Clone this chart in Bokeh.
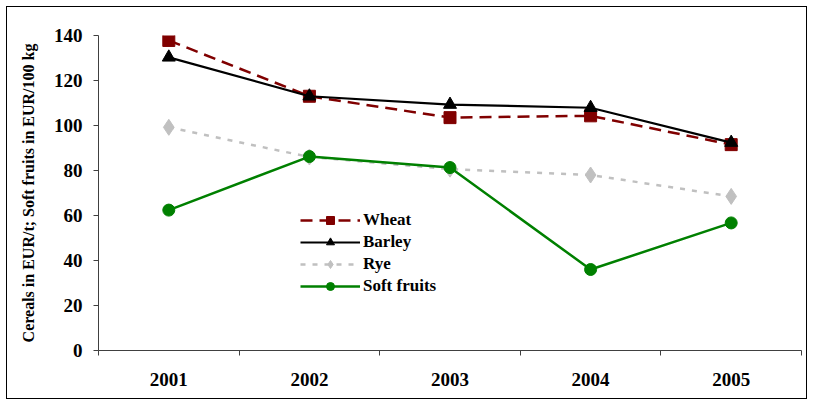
from bokeh.plotting import figure
from bokeh.models import FixedTicker, Legend, LegendItem, Range1d
from bokeh.embed import file_html
from bokeh.resources import INLINE

years = ["2001", "2002", "2003", "2004", "2005"]
wheat = [137.8, 113.0, 103.5, 104.3, 91.5]
barley = [130.3, 113.0, 109.3, 107.9, 92.4]
rye = [99.2, 86.0, 80.6, 78.0, 68.5]
soft_fruits = [62.4, 86.2, 81.3, 36.0, 56.7]
y_ticks = [0, 20, 40, 60, 80, 100, 120, 140]

xs = list(range(1, len(years) + 1))

p = figure(width=801, height=393, output_backend="svg", toolbar_location=None,
           x_range=Range1d(0.5, len(years) + 0.5), y_range=Range1d(0, 140),
           min_border_left=91, min_border_right=7, min_border_top=28, min_border_bottom=50)
p.styles = {"border": "1px solid black", "margin-left": "6px", "margin-top": "6px"}
p.outline_line_color = None
p.xgrid.visible = False
p.ygrid.visible = False
p.background_fill_color = "white"
p.border_fill_color = "white"

FONT = "Liberation Serif"
axis_color = "#404040"

p.xaxis.ticker = FixedTicker(ticks=xs, minor_ticks=[x - 0.5 for x in xs] + [xs[-1] + 0.5])
p.xaxis.major_label_overrides = {x: y for x, y in zip(xs, years)}
p.xaxis.major_tick_out = 0
p.xaxis.major_tick_in = 0
p.xaxis.minor_tick_out = 5
p.xaxis.minor_tick_in = 0
p.xaxis.major_label_standoff = 17

p.yaxis.ticker = FixedTicker(ticks=y_ticks)
p.yaxis.major_tick_out = 5
p.yaxis.major_tick_in = 0
p.yaxis.major_label_standoff = 11
p.yaxis.axis_label = "Cereals in EUR/t; Soft fruits in EUR/100 kg"
p.yaxis.axis_label_text_font = FONT
p.yaxis.axis_label_text_font_style = "bold"
p.yaxis.axis_label_text_font_size = "16px"
p.yaxis.axis_label_text_color = "black"
p.yaxis.axis_label_standoff = 14

for ax in (p.xaxis, p.yaxis):
    ax.axis_line_color = axis_color
    ax.major_tick_line_color = axis_color
    ax.minor_tick_line_color = axis_color
    ax.major_label_text_font = FONT
    ax.major_label_text_font_style = "bold"
    ax.major_label_text_font_size = "19px"
    ax.major_label_text_color = "black"
p.yaxis.minor_tick_line_color = None

r_rye_l = p.line(xs, rye, line_color="#C0C0C0", line_width=2.5, line_dash="5 7")
r_rye_m = p.scatter(xs, rye, marker="diamond", size=16, fill_color="#C0C0C0", line_color="#C0C0C0")
r_wheat_l = p.line(xs, wheat, line_color="#800000", line_width=2.5, line_dash="12 7")
r_wheat_m = p.scatter(xs, wheat, marker="square", size=12, fill_color="#800000", line_color="#800000")
r_barley_l = p.line(xs, barley, line_color="black", line_width=2.2)
r_barley_m = p.scatter(xs, barley, marker="triangle", size=13, fill_color="black", line_color="black")
r_soft_l = p.line(xs, soft_fruits, line_color="#008000", line_width=2.5)
r_soft_m = p.scatter(xs, soft_fruits, marker="circle", size=12, fill_color="#008000", line_color="#008000")

legend = Legend(items=[
    LegendItem(label="Wheat", renderers=[r_wheat_l, r_wheat_m]),
    LegendItem(label="Barley", renderers=[r_barley_l, r_barley_m]),
    LegendItem(label="Rye", renderers=[r_rye_l, r_rye_m]),
    LegendItem(label="Soft fruits", renderers=[r_soft_l, r_soft_m]),
], location=(202, 54))
legend.glyph_width = 60
legend.glyph_height = 20
legend.label_height = 20
legend.spacing = 2
legend.padding = 0
legend.margin = 0
legend.label_standoff = 3
legend.border_line_color = None
legend.background_fill_alpha = 0
legend.label_text_font = FONT
legend.label_text_font_style = "bold"
legend.label_text_font_size = "17px"
legend.label_text_color = "black"
p.add_layout(legend, "center")

open("out.html", "w").write(file_html(p, INLINE))
